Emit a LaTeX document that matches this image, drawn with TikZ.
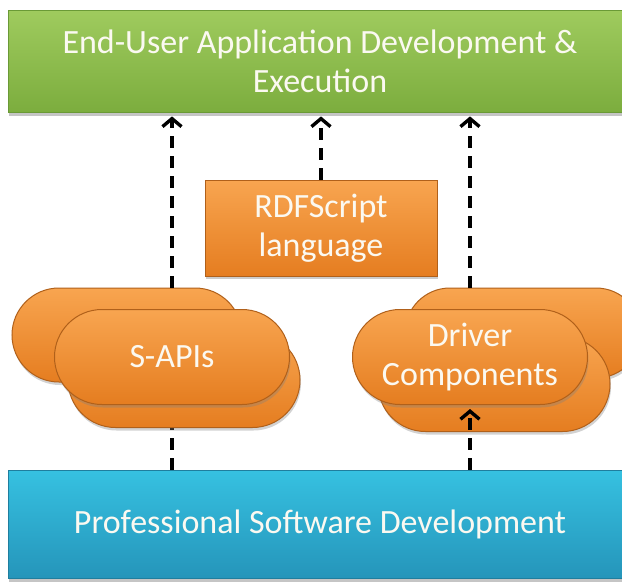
\documentclass[tikz,border=0pt]{standalone}
\usepackage{fontspec}
\setmainfont{Carlito}
\usetikzlibrary{shapes.misc,arrows.meta,shadows,calc}

\definecolor{greenT}{HTML}{9FCB5E}
\definecolor{greenB}{HTML}{7CAD3E}
\definecolor{greenD}{HTML}{6A9A36}
\definecolor{orangeT}{HTML}{F8A550}
\definecolor{orangeB}{HTML}{E57D20}
\definecolor{orangeD}{HTML}{B0601A}
\definecolor{blueT}{HTML}{36C1E1}
\definecolor{blueB}{HTML}{2595BA}
\definecolor{blueD}{HTML}{1F7E9E}
\definecolor{labeltext}{HTML}{FBF9F1}

\tikzset{
  box/.style={draw, line width=0.8pt, align=center, text=labeltext,
    font=\fontsize{34}{39}\selectfont, inner sep=0pt},
  greenbox/.style={box, draw=greenD, top color=greenT, bottom color=greenB,
    drop shadow={shadow xshift=1pt, shadow yshift=-4pt, opacity=0.45}},
  bluebox/.style={box, draw=blueD, top color=blueT, bottom color=blueB,
    drop shadow={shadow xshift=1pt, shadow yshift=-4pt, opacity=0.45}},
  orangebox/.style={box, draw=orangeD, top color=orangeT, bottom color=orangeB,
    drop shadow={shadow xshift=1pt, shadow yshift=-3pt, opacity=0.4}},
  pill/.style={rounded rectangle, box, line width=1pt, draw=orangeD,
    top color=orangeT, bottom color=orangeB,
    drop shadow={shadow xshift=1pt, shadow yshift=-3pt, opacity=0.35}},
  flow/.style={line width=3.8pt, dash pattern=on 12pt off 8pt,
    -{Straight Barb[length=8pt,width=19pt,line width=3.4pt]}, shorten >=4pt},
  plainflow/.style={line width=3.8pt, dash pattern=on 12pt off 8pt}
}

\begin{document}
\begin{tikzpicture}[x=1pt,y=-1pt]
  \clip (0,0) rectangle (622,582);
  \fill[white] (0,0) rectangle (622,582);

  % layers
  \node[greenbox, minimum width=624pt, minimum height=102pt] (green) at (320,61)
    {\raisebox{-3pt}{\parbox{600pt}{\centering End-User Application Development \&\\Execution}}};
  \node[bluebox, minimum width=624pt, minimum height=108pt] (blue) at (320,524)
    {Professional Software Development};
  \node[orangebox, minimum width=232pt, minimum height=96pt] (rdf) at (321,228)
    {RDFScript\\language};

  % dashed link hidden behind the S-APIs stack
  \coordinate (sfoot) at (172,380);
  \draw[plainflow] (blue.north -| sfoot) -- (sfoot);

  % S-APIs stack
  \node[pill, minimum width=230pt, minimum height=94pt] (sback) at (127,335) {};
  \node[pill, minimum width=232pt, minimum height=95pt] (slow) at (184,380) {};
  \node[pill, minimum width=235pt, minimum height=95pt] (sfront) at (172,357) {S-APIs};

  % Driver Components stack
  \node[pill, minimum width=236pt, minimum height=90pt] (dback) at (523,333) {};
  \node[pill, minimum width=232pt, minimum height=95pt] (dlow) at (494,384) {};
  \node[pill, minimum width=235pt, minimum height=95pt] (dfront) at (470,357)
    {Driver\\Components};

  % dependencies
  \draw[flow] (sfront |- sback.north) -- (sfront |- green.south);
  \draw[flow] (rdf.north) -- (rdf |- green.south);
  \draw[flow] (dfront |- dback.north) -- (dfront |- green.south);
  \draw[flow] (dfront |- blue.north) -- (dfront.south);
\end{tikzpicture}
\end{document}
